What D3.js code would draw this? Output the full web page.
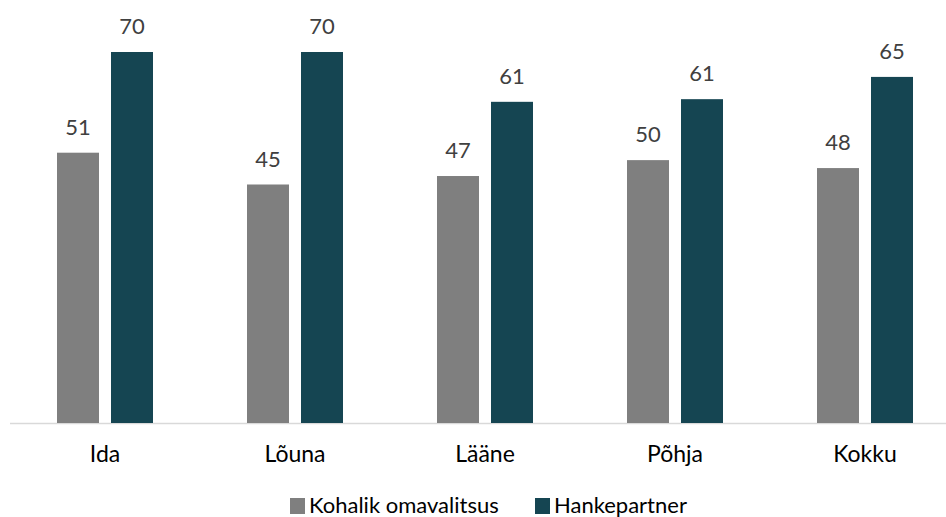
<!DOCTYPE html>
<html>
<head>
<meta charset="utf-8">
<script src="https://cdn.jsdelivr.net/npm/d3@7"></script>
<style>
  body { margin: 0; background: #fff; }
  text { font-family: Lato, "Open Sans", "Liberation Sans", sans-serif; }
</style>
</head>
<body>
<svg id="chart" width="946" height="517"></svg>
<script>
// values; labels show them rounded
var categories = ['Ida', 'Lõuna', 'Lääne', 'Põhja', 'Kokku']
var seriesNames = ['Kohalik omavalitsus', 'Hankepartner']
var kohalik = [51, 45, 46.6, 49.6, 48.1]
var hanke = [70, 70, 60.6, 61.1, 65.3]
var colors = ['#7f7f7f', '#154552']

var svg = d3.select('#chart')
  , baseY = 423
  , x = d3.scaleBand().domain(categories).range([10, 960])
  , y = d3.scaleLinear().domain([0, 70]).range([baseY, 52])
  , barW = 42
  , gap = 12

var rows = categories.map(function(c, i) { return { cat: c, vals: [kohalik[i], hanke[i]] } })

// axis line
svg.append('line')
  .attr('x1', 10).attr('x2', 946)
  .attr('y1', baseY + 0.5).attr('y2', baseY + 0.5)
  .attr('stroke', '#d9d9d9').attr('stroke-width', 1.5)

var groups = svg.selectAll('g.cat').data(rows).enter().append('g')
  .attr('class', 'cat')
  .attr('transform', function(d) { return 'translate(' + (x(d.cat) + x.bandwidth() / 2) + ',0)' })

var offset = function(j) { return j === 0 ? -gap / 2 - barW : gap / 2 }

groups.selectAll('rect').data(function(d) { return d.vals }).enter().append('rect')
  .attr('x', function(v, j) { return offset(j) })
  .attr('y', function(v) { return y(v) })
  .attr('width', barW)
  .attr('height', function(v) { return baseY - y(v) })
  .attr('fill', function(v, j) { return colors[j] })

groups.selectAll('text.val').data(function(d) { return d.vals }).enter().append('text')
  .attr('class', 'val')
  .attr('x', function(v, j) { return offset(j) + barW / 2 })
  .attr('y', function(v) { return y(v) - 18 })
  .attr('text-anchor', 'middle')
  .attr('font-size', 22)
  .attr('fill', '#404040')
  .text(function(v) { return d3.format('.0f')(v) })

groups.append('text')
  .attr('y', 462)
  .attr('text-anchor', 'middle')
  .attr('font-size', 23)
  .attr('fill', '#000')
  .text(function(d) { return d.cat })

// legend, close to the bottom edge like the original
var legendX = [290, 535]
var legend = svg.selectAll('g.leg').data(seriesNames).enter().append('g')
  .attr('class', 'leg')
  .attr('transform', function(d, i) { return 'translate(' + legendX[i] + ',498)' })
legend.append('rect').attr('width', 15).attr('height', 16)
  .attr('fill', function(d, i) { return colors[i] })
legend.append('text').attr('x', 19).attr('y', 15)
  .attr('font-size', 22).attr('fill', '#000')
  .text(function(d) { return d })
</script>
</body>
</html>
